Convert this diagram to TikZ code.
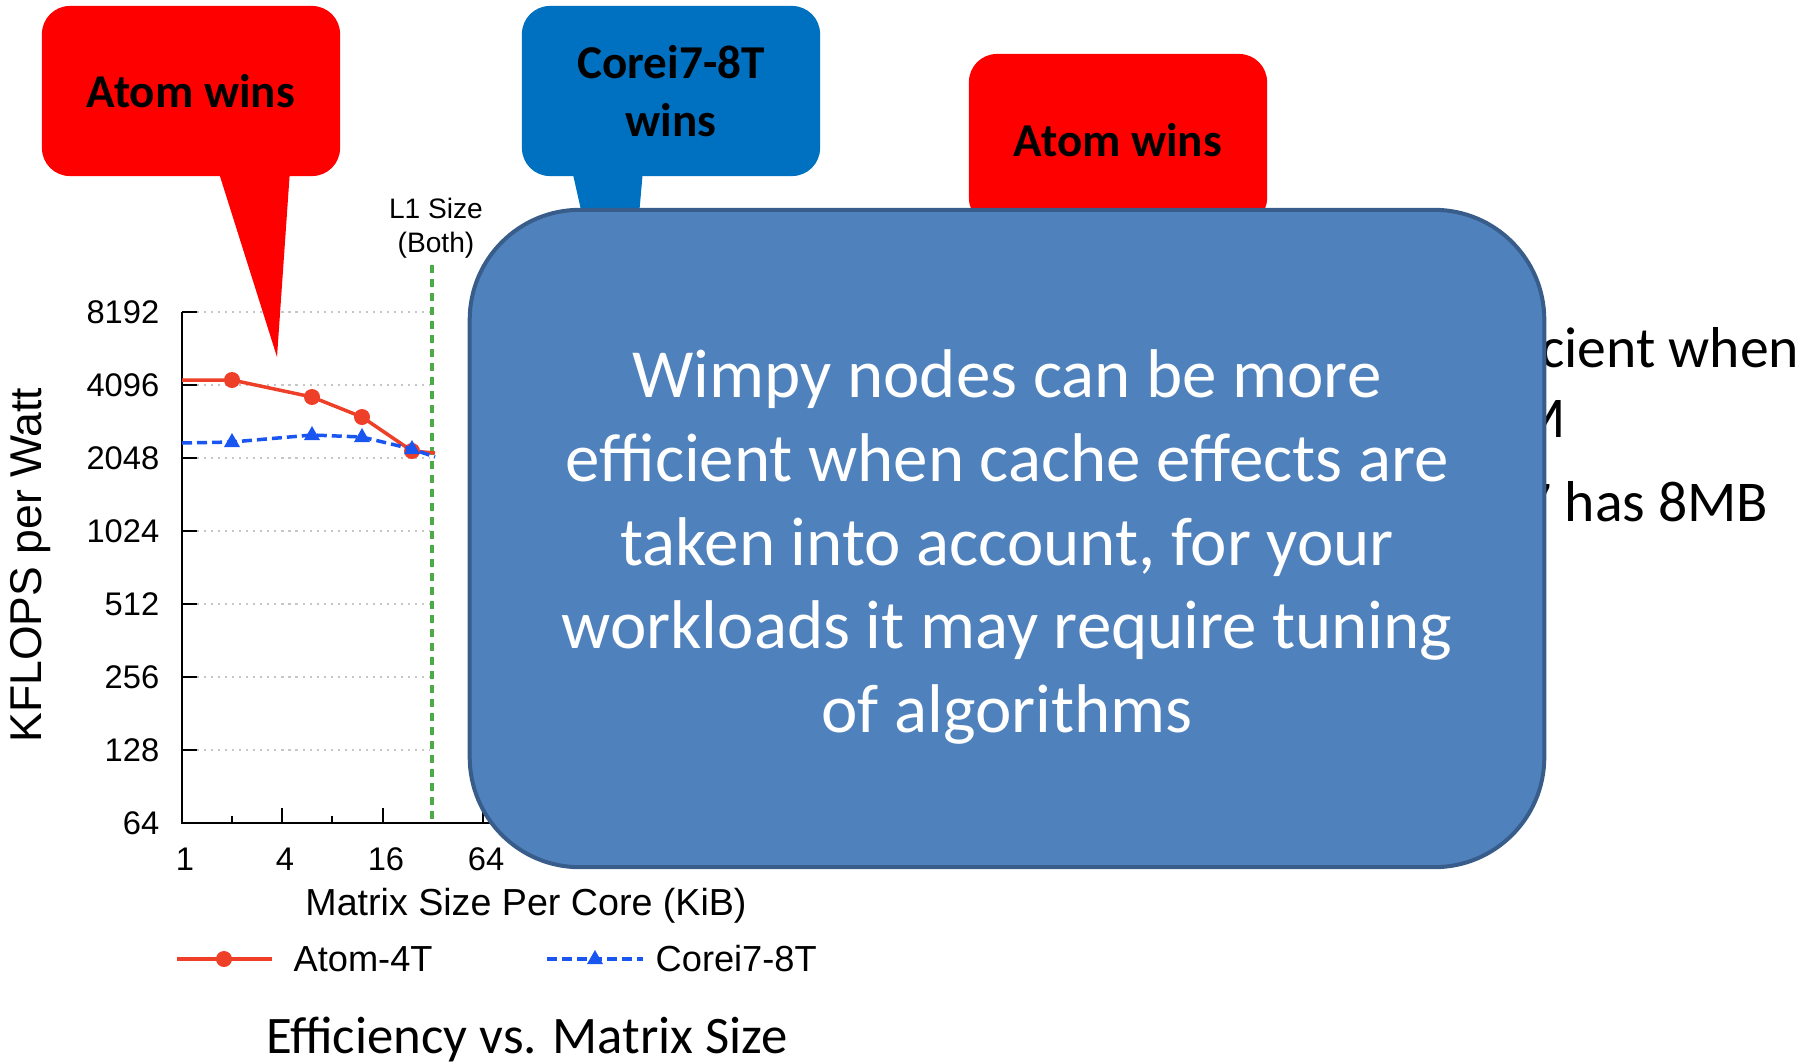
\documentclass[tikz,border=0pt]{standalone}
\usepackage{fontspec}
\setmainfont{Carlito}
\newfontfamily\plotfont{Liberation Sans}
\definecolor{atomred}{RGB}{238,64,40}
\definecolor{coreblue}{RGB}{25,85,240}
\definecolor{l1green}{RGB}{76,170,72}
\definecolor{boxfill}{RGB}{79,129,189}
\definecolor{boxline}{RGB}{56,93,138}
\definecolor{callblue}{RGB}{0,112,192}
\begin{document}
\begin{tikzpicture}[x=0.01cm, y=-0.01cm]
  \tikzstyle{axis}=[black, line width=0.027cm]
  \tikzstyle{ticklbl}=[font=\plotfont\fontsize{9.3}{11}\selectfont, inner sep=0pt]
  \tikzstyle{lgd}=[font=\plotfont\fontsize{10.3}{12}\selectfont, inner sep=0pt, anchor=west]
  \tikzstyle{callout}=[rounded corners=0.28cm, minimum width=2.98cm, minimum height=1.7cm, align=center, inner sep=0pt, font=\bfseries\fontsize{13.4}{16.5}\selectfont]
  \tikzstyle{bgtxt}=[font=\fontsize{16.4}{20}\selectfont, inner sep=0pt, anchor=base east]
  \useasboundingbox (0,0) rectangle (1818,1063);
  % chart: grid, axes and labels
  \foreach \v/\y in {8192/312,4096/385,2048/458,1024/531,512/604,256/677,128/750,64/823} {
    \draw[gray!45, line width=0.3pt, dash pattern=on 0.6pt off 1.4pt] (197,\y) -- (430,\y);
    \draw[axis] (182,\y) -- (197,\y);
    \node[ticklbl, anchor=east] (y\v) at (160,\y) {\v};
  }
  \draw[axis] (182,312) -- (182,823) -- (520,823);
  \foreach \k/\x in {1/182,4/282,16/383,64/483} {
    \draw[axis] (\x,823) -- (\x,808);
    \node[ticklbl] (x\k) at (\x+3,859) {\k};
  }
  \foreach \x in {232,332} \draw[axis] (\x,823) -- (\x,816);
  \draw[l1green, line width=0.04cm, dash pattern=on 0.08cm off 0.06cm] (432,265) -- (432,823);
  \node[align=center, inner sep=0pt, font=\plotfont\fontsize{8}{9.7}\selectfont] (l1lbl) at (436,228) {L1 Size\\(Both)};
  \node[rotate=90, inner sep=0pt, font=\plotfont\fontsize{12.66}{15}\selectfont] (ylbl) at (31,565) {KFLOPS per Watt};
  \node[inner sep=0pt, font=\plotfont\fontsize{10.7}{13}\selectfont] (xlbl) at (526,906) {Matrix Size Per Core (KiB)};
  % data
  \draw[atomred, line width=0.035cm] (182,380) -- (232,380) -- (312,397) -- (362,417) -- (412,451) -- (435,453);
  \foreach \x/\y in {232/380,312/397,362/417,412/451} \fill[atomred] (\x,\y) circle (0.08cm);
  \draw[coreblue, line width=0.035cm, dash pattern=on 0.1cm off 0.05cm] (182,443) -- (232,442) -- (312,435) -- (362,437) -- (412,449) -- (435,457);
  \foreach \x/\y in {232/442,312/435,362/437,412/449} \fill[coreblue] (\x,\y-9) -- (\x+8,\y+5) -- (\x-8,\y+5) -- cycle;
  % legend
  \draw[atomred, line width=0.035cm] (177,959) -- (272,959);
  \fill[atomred] (224,959) circle (0.08cm);
  \node[lgd] (atomlgd) at (293,959) {Atom-4T};
  \draw[coreblue, line width=0.035cm, dash pattern=on 0.1cm off 0.05cm] (547,959) -- (643,959);
  \fill[coreblue] (595,950) -- (603,964) -- (587,964) -- cycle;
  \node[lgd] (corelgd) at (655,959) {Corei7-8T};
  \node[inner sep=0pt, font=\fontsize{15}{18}\selectfont] (title) at (527,1039) {Efficiency vs. Matrix Size};
  % callouts
  \node[callout, fill=red] (atomA) at (191,91) {Atom wins};
  \fill[red] (218,170) -- (277,357) -- (290,170) -- cycle;
  \node[callout, fill=callblue] (coreB) at (671,91) {Corei7-8T\\wins};
  \fill[callblue] (572,170) -- (623,397) -- (643,170) -- cycle;
  \node[callout, fill=red, minimum height=1.72cm] (atomC) at (1118,140) {Atom wins};
  % slide text behind the box
  \node[bgtxt] (lineA) at (1800,367) {cient when};
  \node[bgtxt] (lineB) at (1566,437) {M};
  \node[bgtxt] (lineC) at (1769,521) {7 has 8MB};
  % summary box
  \node[draw=boxline, line width=0.04cm, fill=boxfill, rounded corners=1.1cm, minimum width=10.74cm, minimum height=6.57cm] (wimpy) at (1007,538.5) {};
  \node[text=white, align=center, inner sep=0pt, font=\fontsize{19.6}{23.76}\selectfont] (wimpytxt) at (1007,547) {Wimpy nodes can be more\\efficient when cache effects are\\taken into account, for your\\workloads it may require tuning\\of algorithms};
\end{tikzpicture}
\end{document}
